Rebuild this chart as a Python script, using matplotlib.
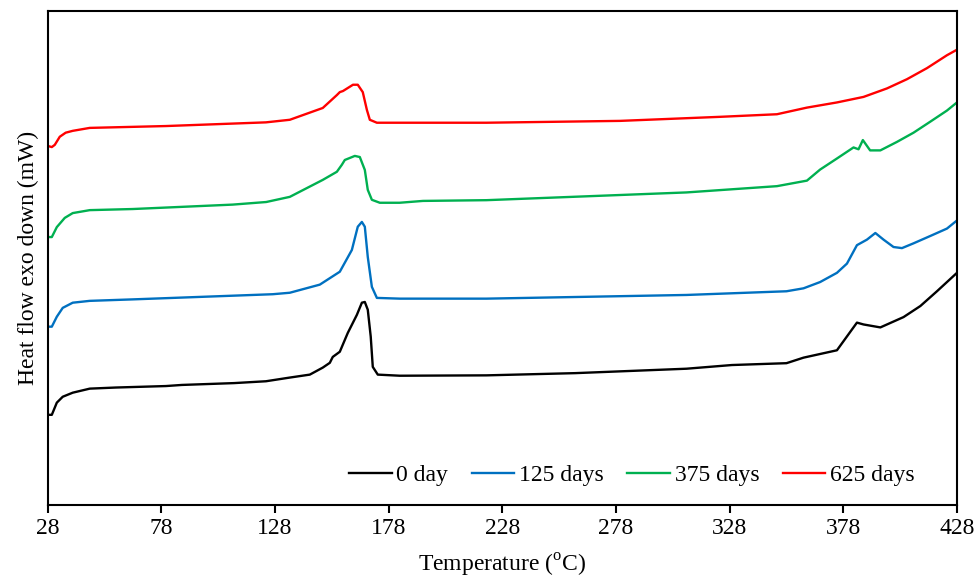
import numpy as np
import matplotlib
matplotlib.use('Agg')
import matplotlib.pyplot as plt

#%% plot settings
plt.rcdefaults()
params = {
    'font.family': 'Liberation Serif',
    'font.size': 17,
    'mathtext.fontset': 'custom',
    'mathtext.rm': 'Liberation Serif',
    'axes.linewidth': 1.5,
    'xtick.major.width': 1.5,
    'xtick.major.size': 6,
    'xtick.labelsize': 17,
    'lines.solid_joinstyle': 'round',
}
plt.rcParams.update(params)

#%% data (heat flow in arbitrary units, offset per curve)
t_0 = [28, 29.8, 32.0, 34.6, 39.0, 46.5, 58, 80, 87, 110, 124, 134.5, 143.3,
       149.0, 152.1, 153.4, 156.5, 160.0, 164.0, 166.2, 167.5, 168.8, 170.1,
       171.0, 173.2, 182.9, 221, 260, 309, 329, 353, 360.5, 375.2, 384.0,
       386.9, 394.3, 404.5, 411.9, 419.2, 428]
hf_0 = [245, 245, 278, 294, 305, 316, 319, 323, 326, 331, 336, 346, 354,
        373, 386, 402, 416, 467, 516, 549, 551, 530, 457,
        375, 354, 351, 352, 358, 370, 380, 385, 400, 420, 495,
        490, 482, 510, 540, 580, 630]

t_125 = [28, 29.8, 32.0, 34.6, 39.0, 46.5, 65.4, 109.4, 127, 134.5, 147.7,
         156.5, 161.8, 164.4, 166.2, 167.5, 168.8, 170.6, 172.8, 182.9, 221,
         309, 353, 360.5, 367.8, 375.2, 379.6, 384, 388.4, 392.1, 395.7,
         400.1, 403.8, 408.9, 416.3, 423.6, 428]
hf_125 = [484, 484, 511, 535, 549, 554, 558, 568, 572, 576, 598,
          633, 692, 755, 768, 755, 673, 592, 562, 560, 560,
          570, 580, 588, 605, 630, 655, 705, 720, 738, 720,
          700, 697, 710, 730, 750, 772]

t_375 = [28, 29.8, 32.0, 35.5, 39.0, 46.5, 65.4, 109.4, 124.1, 134.5, 149,
         155.2, 157.4, 158.7, 163.1, 165.3, 167.5, 168.8, 170.6, 174.1, 182.8,
         193.1, 221, 309, 348.8, 362, 367.8, 375.2, 382.5, 384.7, 386.6,
         389.8, 394.3, 401.6, 408.9, 416.3, 423.6, 428]
hf_375 = [727, 727, 754, 779, 792, 800, 803, 815, 822, 836, 882,
          904, 923, 936, 947, 944, 909, 855, 828, 820, 820,
          825, 827, 848, 865, 880, 910, 940, 970, 965, 990,
          962, 962, 985, 1010, 1040, 1070, 1092]

t_625 = [28, 29.8, 31.1, 33.3, 35.9, 39, 46.5, 80, 124, 134.5, 149, 155.2,
         156.5, 157.9, 162.3, 164.4, 166.6, 168.4, 169.7, 172.8, 182.9, 221,
         279.8, 323.8, 348.8, 362, 375.2, 386.9, 397.2, 406, 414.8, 423.6, 428]
hf_625 = [974, 971, 977, 999, 1010, 1015, 1023, 1028, 1038, 1045, 1077, 1112,
          1120, 1123, 1140, 1140, 1120, 1072, 1045, 1037, 1037, 1037,
          1042, 1053, 1060, 1078, 1092, 1107, 1130, 1155, 1185, 1220, 1235]

labels = ['0 day', '125 days', '375 days', '625 days']
colors = ['black', '#0070C0', '#00B050', '#FF0000']

#%% figure
fig = plt.figure(figsize=(9.74, 5.78), dpi=100)
ax = fig.add_axes([0.049, 0.126, 0.9335, 0.855])

ax.plot(t_0, hf_0, color=colors[0], linewidth=1.7, label=labels[0])
ax.plot(t_125, hf_125, color=colors[1], linewidth=1.7, label=labels[1])
ax.plot(t_375, hf_375, color=colors[2], linewidth=1.7, label=labels[2])
ax.plot(t_625, hf_625, color=colors[3], linewidth=1.7, label=labels[3])

ax.set_xlim(28, 428)
ax.set_ylim(0, 1340)
ax.set_xticks(np.arange(28, 429, 50))
ax.set_yticks([])
ax.set_xlabel(r'Temperature ($^{\mathrm{o}}$C)', labelpad=9)
ax.set_ylabel('Heat flow exo down (mW)', labelpad=6)

ax.legend(loc='center', bbox_to_anchor=(0.6425, 0.061), ncol=4, frameon=False,
          handlelength=1.8, handletextpad=0.2, columnspacing=1.0, borderpad=0)

plt.savefig('out.png', dpi=100)
